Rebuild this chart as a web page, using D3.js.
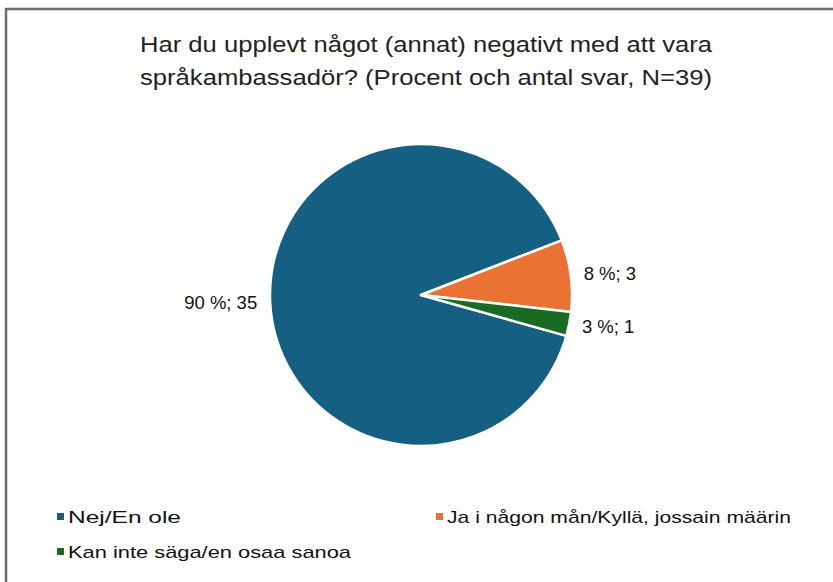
<!DOCTYPE html>
<html>
<head>
    <title>Språkambassadör – negativa upplevelser</title>
    <script src="https://d3js.org/d3.v7.min.js"></script>
    <style>
        html, body { margin: 0; padding: 0; background: white; overflow: hidden; }
        svg { display: block; }
        .title { font-family: 'Liberation Sans', Arial, sans-serif; font-size: 22px; fill: #222; }
        .label { font-family: 'Liberation Sans', Arial, sans-serif; font-size: 18.5px; fill: #111; }
        .legend { font-family: 'Liberation Sans Narrow', 'Liberation Sans', Arial, sans-serif; font-size: 17px; fill: #111; }
    </style>
</head>
<body>
    <svg width="833" height="582"></svg>
    <script>
        // Data
        const categories = ["Nej/En ole", "Ja i någon mån/Kyllä, jossain määrin", "Kan inte säga/en osaa sanoa"];
        const counts = [35, 3, 1];
        const colors = ["#156082", "#e97132", "#196b24"];
        const titleLines = ["Har du upplevt något (annat) negativt med att vara",
                            "språkambassadör? (Procent och antal svar, N=39)"];

        const svg = d3.select("svg");
        const width = +svg.attr("width"), height = +svg.attr("height");

        // chart frame: only the top and left edges are inside the crop
        svg.append("path")
            .attr("d", `M6,${height}V9H${width}`)
            .attr("fill", "none")
            .attr("stroke", "#6e6e6e")
            .attr("stroke-width", 2.5);

        // Title
        svg.append("g").selectAll("text")
            .data(titleLines)
            .enter().append("text")
            .attr("class", "title")
            .attr("x", 426)
            .attr("y", (d, i) => 52 + i * 33)
            .attr("text-anchor", "middle")
            .attr("textLength", 572)
            .attr("lengthAdjust", "spacingAndGlyphs")
            .text(d => d);

        // Pie
        const cx = 421, cy = 295, r = 151;
        const total = d3.sum(counts);
        const start = 105.7 * Math.PI / 180;
        const pie = d3.pie().sort(null)
            .startAngle(start).endAngle(start + 2 * Math.PI);
        const arcs = pie(counts);
        const arc = d3.arc().innerRadius(0).outerRadius(r);

        const g = svg.append("g").attr("transform", `translate(${cx},${cy})`);
        g.selectAll("path")
            .data(arcs)
            .enter().append("path")
            .attr("d", arc)
            .attr("fill", (d, i) => colors[i])
            .attr("stroke", "white")
            .attr("stroke-width", 2.5)
            .attr("stroke-linejoin", "round");

        // Data labels outside slices
        const lr = r + 13;
        g.selectAll("text")
            .data(arcs)
            .enter().append("text")
            .attr("class", "label")
            .attr("x", d => lr * Math.sin((d.startAngle + d.endAngle) / 2))
            .attr("y", d => -lr * Math.cos((d.startAngle + d.endAngle) / 2))
            .attr("dy", "0.35em")
            .attr("text-anchor", d => Math.sin((d.startAngle + d.endAngle) / 2) < 0 ? "end" : "start")
            .text(d => `${Math.round(d.value / total * 100)} %; ${d.value}`);

        // Legend
        const legendPos = [[57, 517], [436, 517], [57, 552]];
        const legendLen = [113, 344, 283];
        const lg = svg.append("g").selectAll("g")
            .data(categories)
            .enter().append("g")
            .attr("transform", (d, i) => `translate(${legendPos[i][0]},${legendPos[i][1]})`);
        lg.append("rect")
            .attr("x", 0).attr("y", -4)
            .attr("width", 7).attr("height", 7)
            .attr("fill", (d, i) => colors[i]);
        lg.append("text")
            .attr("class", "legend")
            .attr("x", 11)
            .attr("y", 0)
            .attr("dy", "0.35em")
            .attr("textLength", (d, i) => legendLen[i])
            .attr("lengthAdjust", "spacingAndGlyphs")
            .text(d => d);
    </script>
</body>
</html>
